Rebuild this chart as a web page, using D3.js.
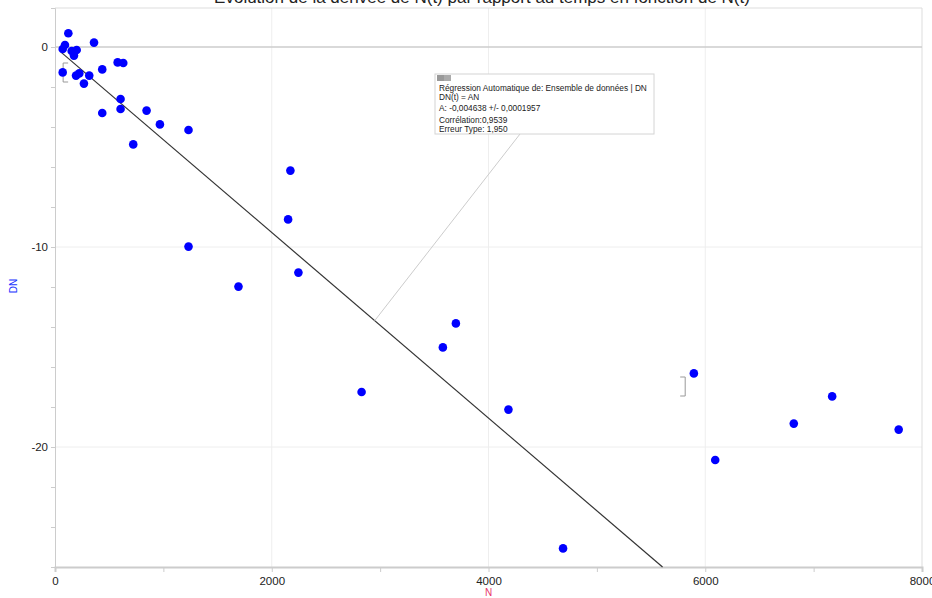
<!DOCTYPE html>
<html>
<head>
<meta charset="utf-8">
<script src="https://cdn.jsdelivr.net/npm/d3@7"></script>
<style>
  body { margin: 0; background: #fff; }
  svg { display: block; font-family: "Liberation Sans", Arial, sans-serif; }
</style>
</head>
<body>
<svg id="chart" width="932" height="598"></svg>
<script>
// données : N et DN
const N  = [123, 92, 71, 360, 154, 200, 175, 578, 630, 71, 436, 194, 224, 316, 267, 605, 605, 436, 845, 968,
            722, 1232, 2172, 2151, 1232, 2246, 1693, 3699, 3579, 2829, 4184, 4688, 5895, 7171, 6817, 7785, 6092];
const DN = [0.69, 0.1, -0.1, 0.22, -0.2, -0.15, -0.43, -0.77, -0.8, -1.27, -1.12, -1.43, -1.32, -1.43, -1.83, -2.6, -3.1, -3.3, -3.18, -3.87,
            -4.87, -4.15, -6.18, -8.62, -9.98, -11.28, -11.98, -13.82, -15.02, -17.25, -18.13, -25.07, -16.32, -17.47, -18.83, -19.13, -20.65];
const slopeA = -0.004638;
const fitStart = 55;
const xTicksMajor = [0, 2000, 4000, 6000, 8000];
const yTicksMajor = [0, -10, -20];
const infoLines = [
  "Régression Automatique de: Ensemble de données | DN",
  "DN(t) = AN",
  "A: -0,004638 +/- 0,0001957",
  "Corrélation:0,9539",
  "Erreur Type: 1,950"
];
// crochets de plage [N, DN haut, DN bas]
const brackets = [[75, -0.8, -1.75, 1], [5815, -16.5, -17.45, -1]];

const svg = d3.select("#chart");
const x = d3.scaleLinear().domain([0, 8000]).range([55, 922]);
const y = d3.scaleLinear().domain([-26, 1.95]).range([567, 8]);

// grille
svg.append("g").selectAll("line").data([2000, 4000, 6000]).enter().append("line")
  .attr("x1", d => x(d)).attr("x2", d => x(d)).attr("y1", y(1.95)).attr("y2", y(-26))
  .attr("stroke", "#eeeeee");
svg.append("g").selectAll("line").data([-10, -20]).enter().append("line")
  .attr("x1", x(0)).attr("x2", x(8000)).attr("y1", d => y(d)).attr("y2", d => y(d))
  .attr("stroke", "#eeeeee");

// cadre
svg.append("line").attr("x1", x(0)).attr("x2", x(8000)).attr("y1", y(1.95)).attr("y2", y(1.95)).attr("stroke", "#dddddd");
svg.append("line").attr("x1", x(8000)).attr("x2", x(8000)).attr("y1", y(1.95)).attr("y2", y(-26)).attr("stroke", "#dddddd");
svg.append("line").attr("x1", x(0)).attr("x2", x(8000)).attr("y1", y(0)).attr("y2", y(0)).attr("stroke", "#cccccc").attr("stroke-width", 1.5);

// axes
const xAxis = svg.append("g").attr("transform", `translate(0,${y(-26)})`)
  .call(d3.axisBottom(x).tickValues(d3.range(0, 8001, 1000)).tickSize(5)
    .tickFormat(d => xTicksMajor.includes(d) ? d : ""));
xAxis.select(".domain").attr("stroke", "#cccccc").attr("stroke-width", 2);
xAxis.selectAll(".tick line").attr("stroke", "#cccccc");
xAxis.selectAll("text").attr("font-size", 11.5).attr("fill", "#222").attr("dy", "0.85em");

const yAxis = svg.append("g").attr("transform", `translate(${x(0)},0)`)
  .call(d3.axisLeft(y).tickValues(d3.range(0, -26.1, -2)).tickSize(4)
    .tickFormat(d => yTicksMajor.includes(d) ? d : ""));
yAxis.select(".domain").attr("stroke", "#cccccc");
yAxis.selectAll(".tick line").attr("stroke", "#cccccc");
yAxis.selectAll("text").attr("font-size", 11.5).attr("fill", "#222").attr("x", -7);

// titres
svg.append("text").attr("x", 482).attr("y", 3).attr("text-anchor", "middle")
  .attr("font-size", 17).attr("fill", "#222")
  .text("Évolution de la dérivée de N(t) par rapport au temps en fonction de N(t)");
svg.append("text").attr("x", x(4000)).attr("y", 596).attr("text-anchor", "middle")
  .attr("font-size", 10).attr("fill", "#e8336a").text("N");
svg.append("text").attr("transform", "translate(17,286) rotate(-90)").attr("text-anchor", "middle")
  .attr("font-size", 10).attr("fill", "#2233ff").text("DN");

// crochets
svg.append("g").selectAll("path").data(brackets).enter().append("path")
  .attr("d", d => {
    const px = x(d[0]), t = y(d[1]), b = y(d[2]), w = 5 * d[3];
    return `M${px + w},${t} H${px} V${b} H${px + w}`;
  })
  .attr("fill", "none").attr("stroke", "#999").attr("stroke-width", 1);

// droite de régression
const fitEnd = -26 / slopeA;
svg.append("line")
  .attr("x1", x(fitStart)).attr("y1", y(slopeA * fitStart))
  .attr("x2", x(fitEnd)).attr("y2", y(slopeA * fitEnd))
  .attr("stroke", "#333").attr("stroke-width", 1.2);

// connecteur de l'annotation
const anchorN = 2950;
svg.append("line")
  .attr("x1", 520).attr("y1", 134)
  .attr("x2", x(anchorN)).attr("y2", y(slopeA * anchorN))
  .attr("stroke", "#cccccc");

// points
svg.append("g").selectAll("circle").data(N).enter().append("circle")
  .attr("cx", d => x(d)).attr("cy", (d, i) => y(DN[i])).attr("r", 4.3)
  .attr("fill", "#0000ff");

// boîte d'annotation
const box = svg.append("g").attr("transform", "translate(435,74)");
box.append("rect").attr("width", 219).attr("height", 60).attr("fill", "#fff").attr("stroke", "#d4d4d4");
box.append("rect").attr("x", 2).attr("y", 1).attr("width", 7).attr("height", 6).attr("fill", "#999");
box.append("rect").attr("x", 9).attr("y", 1).attr("width", 7).attr("height", 6).attr("fill", "#aaa");
box.selectAll("text.info").data(infoLines).enter().append("text")
  .attr("class", "info")
  .attr("x", 4).attr("y", (d, i) => [17, 26, 37, 49, 58][i])
  .attr("font-size", 8.3).attr("fill", "#222").text(d => d);
</script>
</body>
</html>
